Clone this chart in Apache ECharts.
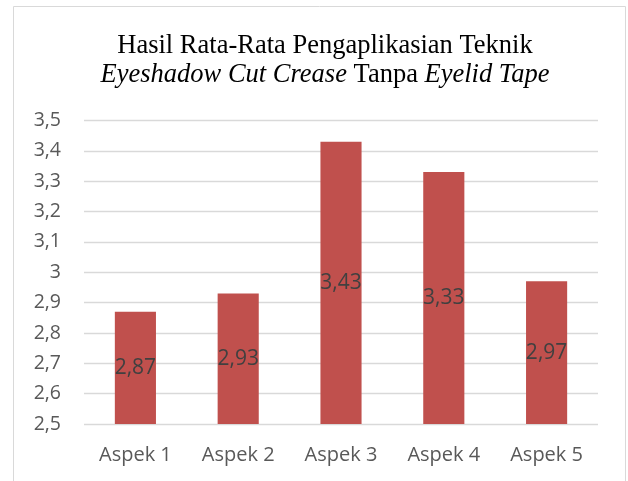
<!DOCTYPE html>
<html>
<head>
<meta charset="utf-8">
<script src="https://cdn.jsdelivr.net/npm/echarts@6/dist/echarts.min.js"></script>
<style>html,body{margin:0;padding:0;background:#fff}#c{width:628px;height:481px}</style>
</head>
<body>
<div id="c"></div>
<script>
const categories = ['Aspek 1', 'Aspek 2', 'Aspek 3', 'Aspek 4', 'Aspek 5'];
const values = [2.87, 2.93, 3.43, 3.33, 2.97];
const yMin = 2.5, yMax = 3.5, yStep = 0.1;

const fmt = v => String(Math.round(v * 100) / 100).replace('.', ',');
const chart = echarts.init(document.getElementById('c'));
chart.setOption({
  animation: false,
  graphic: [{
    type: 'rect', shape: { x: 13.5, y: 6.5, width: 612, height: 520 },
    style: { fill: 'none', stroke: '#d9d9d9', lineWidth: 1 }, silent: true
  }],
  title: {
    left: 320, top: 26, textAlign: 'center',
    text: '{n|Hasil Rata-Rata Pengaplikasian Teknik}\n{i|Eyeshadow Cut Crease}{n| Tanpa }{i|Eyelid Tape}',
    textStyle: {
      fontWeight: 'normal',
      rich: {
        n: { fontFamily: 'Liberation Serif', fontSize: 26.5, fontWeight: 'normal', color: '#000', lineHeight: 29.5 },
        i: { fontFamily: 'Liberation Serif', fontSize: 26.5, fontWeight: 'normal', fontStyle: 'italic', color: '#000', lineHeight: 29.5 }
      }
    }
  },
  grid: { left: 84, right: 30, top: 120.5, bottom: 57, containLabel: false },
  xAxis: {
    type: 'category', data: categories,
    axisLine: { show: false }, axisTick: { show: false },
    axisLabel: { color: '#595959', fontSize: 20, fontFamily: 'Open Sans', margin: 21 }
  },
  yAxis: {
    type: 'value', min: yMin, max: yMax, interval: yStep,
    axisLine: { show: false }, axisTick: { show: false },
    splitLine: { lineStyle: { color: '#d9d9d9', width: 1.3 } },
    axisLabel: { color: '#595959', fontSize: 19.5, fontFamily: 'Open Sans', margin: 23, formatter: fmt }
  },
  series: [{
    type: 'bar', data: values, barWidth: '40%',
    itemStyle: { color: '#C0504D' },
    label: { show: true, position: 'inside', color: '#404040', fontSize: 21, fontFamily: 'Open Sans',
      formatter: p => fmt(p.value) }
  }]
});
</script>
</body>
</html>
